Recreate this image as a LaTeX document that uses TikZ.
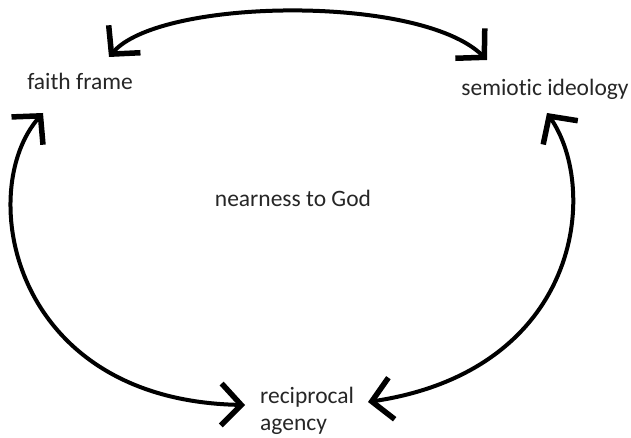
\documentclass[tikz,border=0pt]{standalone}
\usepackage{fontspec}
\setmainfont{Carlito}[Ligatures=NoCommon]
\usetikzlibrary{arrows.meta}

\begin{document}
\begin{tikzpicture}[
    x=1pt, y=-1pt,
    label/.style={inner sep=0pt, text=black!85, font=\fontsize{23.5}{27}\selectfont},
    twoway/.style={{Straight Barb[length=20pt,width=42pt,line width=5.5pt]}-{Straight Barb[length=20pt,width=42pt,line width=5.5pt]}, line width=4pt, line cap=round}
  ]
  \useasboundingbox (0,0) rectangle (631,438);
  \node[label, anchor=base] (faith) at (80,90) {faith frame};
  \node[label, anchor=base] (semiotic) at (545,96) {semiotic ideology};
  \node[label, anchor=base] (nearness) at (293,207) {nearness to God};
  \node[label, anchor=base west, align=left] (recip) at (260,430) {reciprocal\\agency};
  \draw[twoway] ([shift={(29,-33)}]faith.base) .. controls +(51,-59) and +(-67,-66) .. ([shift={(-58,-36)}]semiotic.base);
  \draw[twoway] ([shift={(-37,23)}]faith.base) .. controls +(-68,77) and +(-235,-5) .. ([shift={(-15,-25)}]recip.base west);
  \draw[twoway] ([shift={(2,17)}]semiotic.base) .. controls +(53,77) and +(212,-32) .. ([shift={(108,-28)}]recip.base west);
\end{tikzpicture}
\end{document}
